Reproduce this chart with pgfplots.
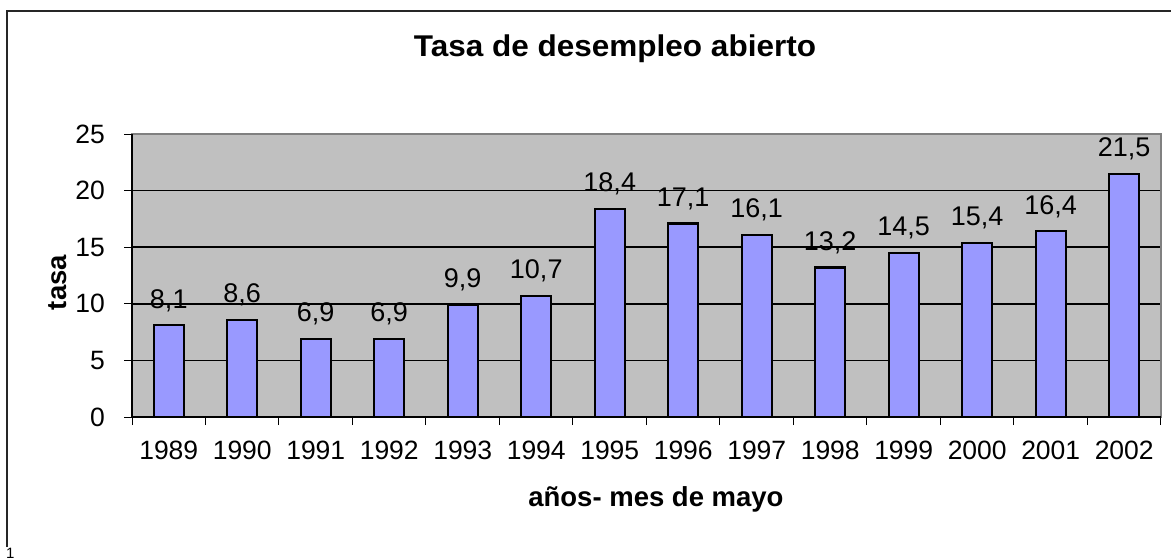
\documentclass[border=0pt]{standalone}
\usepackage{fontspec}
\setmainfont{Liberation Sans}
\usepackage{graphicx}
\usepackage{pgfplots}
\pgfplotsset{compat=1.18}
\definecolor{plotbg}{HTML}{C0C0C0}
\definecolor{barfill}{HTML}{9999FF}
\definecolor{frameg}{HTML}{808080}
\newcommand{\tlfont}{\fontsize{26.5}{30}\selectfont}
\begin{document}
\begin{tikzpicture}
\path[use as bounding box] (0pt,0pt) rectangle (1171pt,558pt);
\draw[line width=1.5pt, black!85] (7pt,11pt) -- (7pt,547pt) -- (1172pt,547pt);
\node[anchor=base west, inner sep=0pt, font=\fontsize{15}{18}\selectfont] at (6pt,0pt) {1};
\begin{axis}[
  at={(132pt,141pt)}, anchor=south west,
  width=1029pt, height=283pt, scale only axis,
  xmin=-0.5, xmax=13.5, ymin=0, ymax=25,
  ytick={0,5,...,25},
  xtick={0,...,13},
  xticklabels={1989,1990,1991,1992,1993,1994,1995,1996,1997,1998,1999,2000,2001,2002},
  minor xtick={-0.5,0.5,...,13.5},
  major x tick style={draw=none},
  tick pos=left, tick align=outside,
  major tick length=8pt, minor tick length=8pt,
  every tick/.style={black, line width=1pt},
  minor x tick style={black, line width=1pt},
  ymajorgrids, major grid style={black, line width=1.5pt},
  axis line style={frameg, line width=2pt},
  axis background/.style={fill=plotbg},
  /pgf/number format/assume math mode=true,
  xticklabel style={font=\tlfont, text=black, anchor=north, inner sep=0pt, yshift=-16pt},
  yticklabel style={font=\tlfont, text=black, anchor=east, inner sep=0pt, xshift=-19pt},
  title={\scalebox{1.05}[1]{Tasa de desempleo abierto}},
  title style={at={(axis description cs:0.4694,1.252)}, anchor=base, inner sep=0pt, font=\fontsize{30}{34}\selectfont\bfseries},
  xlabel={años- mes de mayo},
  xlabel style={at={(axis description cs:0.5092,-0.318)}, anchor=base, inner sep=0pt, font=\fontsize{27.5}{30}\selectfont\bfseries},
  ylabel={tasa},
  ylabel style={at={(axis description cs:-0.0632,0.475)}, anchor=base, inner sep=0pt, font=\fontsize{27.5}{30}\selectfont\bfseries},
  ybar, bar width=30pt,
  nodes near coords,
  nodes near coords style={anchor=base, inner sep=0pt, yshift=17pt, font=\fontsize{27}{30}\selectfont, black,
    /pgf/number format/fixed, /pgf/number format/fixed zerofill, /pgf/number format/precision=1,
    /pgf/number format/use comma, /pgf/number format/assume math mode=true},
  clip=false,
]
\addplot[fill=barfill, draw=black, line width=2.2pt] coordinates {
(0,8.1) (1,8.6) (2,6.9) (3,6.9) (4,9.9) (5,10.7) (6,18.4)
(7,17.1) (8,16.1) (9,13.2) (10,14.5) (11,15.4) (12,16.4) (13,21.5)};
\draw[black, line width=2pt] (rel axis cs:0,1) -- (rel axis cs:0,0) -- (rel axis cs:1,0);
\end{axis}
\end{tikzpicture}
\end{document}
